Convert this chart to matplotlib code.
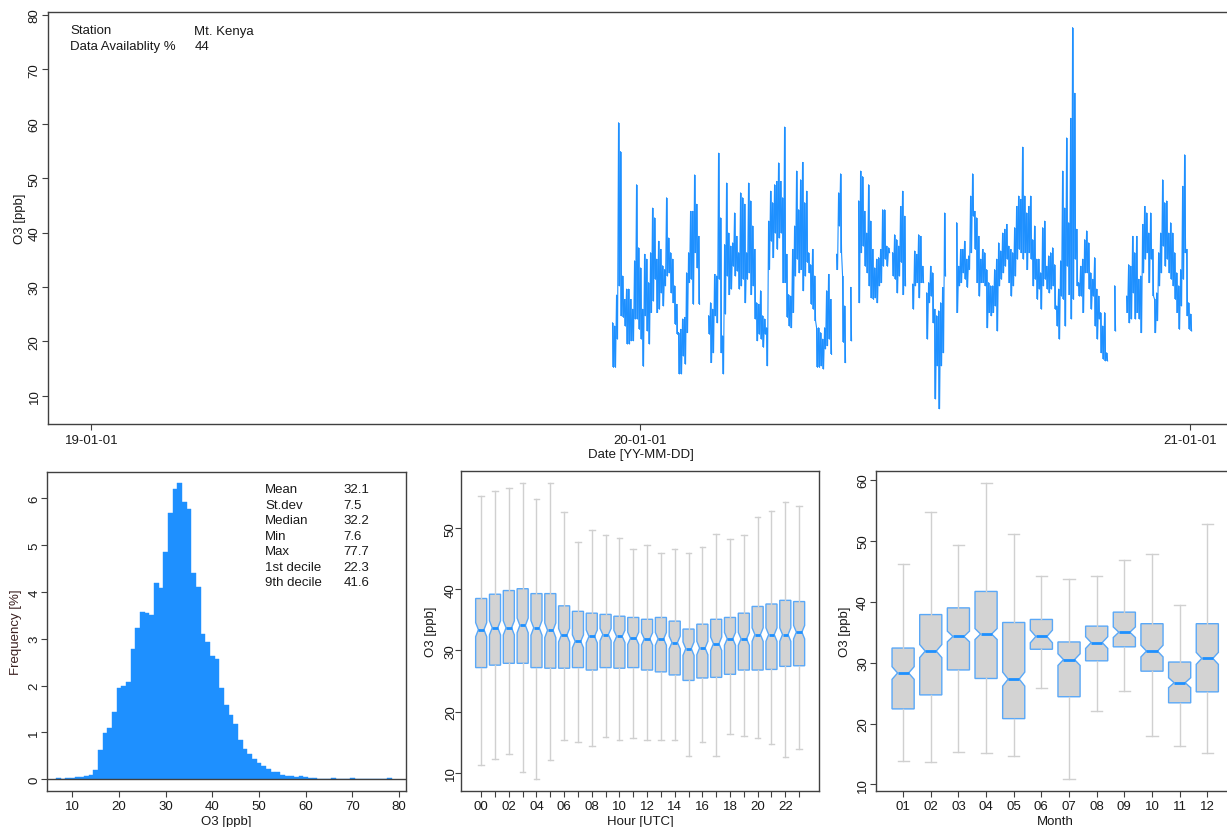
import numpy as np
import matplotlib
matplotlib.use('Agg')
import matplotlib.pyplot as plt
import matplotlib.dates as mdates

plt.rcParams['font.family'] = ['Liberation Sans', 'DejaVu Sans']
plt.rcParams['font.size'] = 9.5

# ---------------- data ----------------
station = "Mt. Kenya"
availability = "44"

# time series: hourly O3 envelope (high / low) per ~1.33-day column
ts_start = '2019-12-13T16:00'
ts_step_days = 1.3307
nan = np.nan
o3_hi = [23.4,22.8,28.5,60.2,54.9,32.0,27.7,29.6,29.6,27.7,25.9,34.8,48.8,37.2,33.5,25.9,36.0,35.1,30.8,36.3,
         44.5,42.7,35.1,38.4,36.9,33.9,33.2,46.4,39.0,36.3,35.1,30.2,26.8,21.6,22.2,24.1,24.4,32.6,36.3,43.9,
         43.9,50.6,45.2,39.3,nan,nan,nan,nan,24.7,27.1,25.9,32.3,32.0,54.6,42.7,21.0,37.8,49.1,39.9,37.5,
         38.1,43.6,39.3,36.3,47.3,46.4,45.2,36.3,49.1,45.8,41.2,
         36.9,27.1,26.8,29.3,24.7,24.1,22.5,42.1,47.6,45.5,48.8,49.4,52.8,49.4,46.4,59.4,36.0,28.6,28.3,36.9,
         41.2,51.3,44.2,49.7,52.9,45.5,47.6,36.3,34.1,36.9,32.0,22.5,22.5,21.6,20.4,22.5,29.3,32.3,27.7,nan,
         nan,36.0,47.3,50.8,32.0,26.5,nan,nan,29.9,nan,nan,nan,45.8,51.3,50.3,43.9,39.9,48.8,42.1,36.9,
         33.5,35.1,35.4,36.9,44.2,44.2,37.5,37.2,nan,36.3,39.6,38.7,37.5,44.8,
         47.6,43.0,nan,nan,nan,30.5,36.6,36.0,39.6,39.3,33.8,nan,28.9,30.8,33.8,32.6,25.9,24.7,25.6,27.1,
         29.9,43.6,nan,nan,nan,nan,nan,41.8,33.8,36.9,36.9,38.4,35.1,35.7,46.7,50.8,43.9,42.7,39.3,35.1,
         36.9,36.3,33.2,30.8,30.2,30.2,33.2,35.1,38.1,36.6,39.9,40.6,41.5,37.5,36.9,36.3,40.9,44.8,46.7,46.1,
         55.7,46.7,43.6,44.8,46.7,38.7,41.2,35.1,35.1,32.6,40.9,42.1,33.8,35.7,
         36.3,37.2,34.1,26.5,29.6,34.8,51.3,44.5,57.4,41.8,61.0,77.7,65.6,40.6,30.8,33.8,35.1,38.7,40.3,38.1,
         32.6,31.4,35.4,29.6,28.3,25.3,22.8,25.3,17.9,nan,nan,nan,30.2,nan,nan,nan,nan,nan,28.3,34.1,
         33.8,39.3,36.3,39.3,31.4,32.0,41.5,44.8,43.6,39.9,43.6,36.9,27.7,28.9,36.3,39.9,49.7,45.5,45.8,39.9,
         41.8,39.9,36.3,32.6,30.2,33.2,48.5,54.3,36.9,27.1,25.0]
o3_lo = [15.2,15.2,20.4,30.2,24.7,24.4,22.8,19.5,19.5,20.1,20.1,24.1,24.1,22.2,20.4,15.4,24.7,21.9,19.5,25.3,
         27.4,31.4,25.3,25.9,28.9,26.5,30.2,32.0,32.6,28.9,27.1,23.1,21.3,14.0,14.0,17.3,15.8,21.6,30.8,31.4,
         26.8,36.3,33.5,26.8,nan,nan,nan,nan,21.3,16.1,17.9,24.7,23.4,31.4,17.9,14.0,25.0,32.0,28.6,29.6,
         33.8,32.0,32.9,29.6,30.2,31.4,27.1,31.4,32.6,28.6,30.2,
         24.1,20.1,21.3,20.4,18.9,21.3,15.5,33.2,38.4,35.4,39.9,36.9,39.0,39.9,30.8,30.8,24.4,22.8,22.5,25.3,
         32.0,35.1,32.6,33.2,29.3,32.0,34.5,32.6,26.8,25.9,23.8,15.2,15.2,15.5,14.9,18.6,19.2,20.4,17.6,nan,
         nan,33.2,41.2,36.3,19.8,16.1,nan,nan,20.1,nan,nan,nan,27.1,36.3,37.5,33.8,32.6,30.2,28.0,27.7,
         28.0,27.1,30.2,30.8,33.8,35.1,33.8,36.3,nan,32.0,31.4,28.9,32.0,34.5,
         28.6,30.2,nan,nan,nan,25.9,30.2,30.8,28.0,30.8,30.8,nan,20.4,27.1,28.3,23.4,9.4,15.5,7.6,15.5,
         17.9,32.0,nan,nan,nan,nan,nan,25.3,30.2,30.8,32.6,31.4,29.9,33.2,36.3,43.0,36.9,30.8,28.3,30.8,
         30.8,30.2,22.5,25.3,24.7,25.3,26.5,21.9,30.2,31.4,32.6,33.8,35.1,30.8,28.3,30.2,32.0,35.1,36.9,36.3,
         35.1,36.3,33.2,36.3,35.1,30.2,31.4,27.7,29.6,25.9,30.2,31.4,29.6,28.9,
         29.6,30.2,25.9,22.8,20.4,28.3,27.7,22.8,33.8,28.6,24.1,27.7,35.1,30.2,28.3,28.3,25.3,32.6,32.6,29.6,
         25.9,28.3,22.8,20.4,24.1,17.9,16.7,16.4,16.4,nan,nan,nan,21.9,nan,nan,nan,nan,nan,25.3,23.4,
         24.1,28.9,24.1,25.3,24.1,21.6,32.6,35.1,36.3,30.8,35.1,28.3,21.6,23.8,30.2,32.6,37.5,33.8,35.1,32.6,
         31.4,30.2,27.7,25.3,22.2,26.5,31.4,36.3,24.7,22.2,21.9]

date_ticks = ['2019-01-01', '2020-01-01', '2021-01-01']
date_tick_labels = ['19-01-01', '20-01-01', '21-01-01']

# histogram (1 ppb bins), frequency in %
hist_first_edge = 6.5
hist_freq = [0.02, 0.0, 0.035, 0.035, 0.04, 0.06, 0.08, 0.09, 0.19, 0.63, 0.98, 1.10, 1.44, 1.95, 1.99, 2.07,
             2.78, 3.24, 3.57, 3.56, 3.51, 4.19, 4.09, 4.85, 5.68, 6.19, 6.33, 5.91, 5.76, 4.41, 4.10, 3.10,
             2.93, 2.63, 2.56, 1.94, 1.59, 1.38, 1.17, 0.84, 0.65, 0.54, 0.44, 0.34, 0.28, 0.21, 0.16, 0.16,
             0.085, 0.07, 0.065, 0.04, 0.065, 0.04, 0.03, 0.03, 0.01, 0.01, 0.005, 0.02, 0.005, 0.0, 0.0, 0.02,
             0.0, 0.0, 0.0, 0.0, 0.0, 0.0, 0.0, 0.02]
stat_names = ['Mean', 'St.dev', 'Median', 'Min', 'Max', '1st decile', '9th decile']
stat_values = ['32.1', '7.5', '32.2', '7.6', '77.7', '22.3', '41.6']

# diurnal box plot
hours = list(range(24))
hour_whislo = [11.3,12.2,13.1,10.2,9.0,12.1,15.4,15.1,14.4,15.8,15.4,15.7,15.3,15.3,15.3,12.8,15.0,12.8,16.3,16.0,15.7,14.7,12.6,13.9]
hour_q1 = [27.2,27.6,27.9,27.9,27.2,27.1,27.1,27.2,26.8,27.2,27.1,27.2,26.8,26.5,26.0,25.1,25.5,25.6,26.1,26.8,26.8,26.9,27.4,27.5]
hour_med = [33.4,33.7,33.7,34.1,33.7,33.3,32.5,31.5,32.3,32.6,32.3,32.0,31.9,31.9,31.3,30.3,30.4,31.1,31.9,31.9,32.6,32.6,32.6,33.0]
hour_q3 = [38.5,39.2,39.8,40.1,39.3,39.3,37.3,36.4,36.1,35.9,35.6,35.4,35.1,35.4,34.8,33.5,34.3,35.1,35.4,36.1,37.2,37.6,38.2,38.0]
hour_whishi = [55.2,56.0,56.6,57.4,54.7,57.4,52.6,47.7,49.7,48.9,48.4,46.6,47.2,45.9,46.6,45.9,46.9,49.0,48.2,48.9,51.8,52.8,54.3,53.7]
hour_notch = [1.15,1.15,1.15,1.2,1.2,1.2,1.1,1.05,1.05,1.0,1.0,1.0,1.0,1.05,1.05,1.1,1.1,1.1,1.05,1.05,1.1,1.1,1.1,1.1]

# monthly box plot
months = list(range(1, 13))
month_labels = ['01','02','03','04','05','06','07','08','09','10','11','12']
month_whislo = [13.9,13.7,15.3,15.1,14.7,25.8,10.9,22.1,25.4,18.0,16.3,15.1]
month_q1 = [22.4,24.7,28.8,27.4,20.8,32.2,24.4,30.3,32.6,28.6,23.4,25.2]
month_med = [28.3,31.9,34.3,34.7,27.3,34.3,30.5,33.3,35.0,31.9,26.7,30.7]
month_q3 = [32.4,37.9,39.0,41.7,36.6,37.1,33.4,36.0,38.3,36.4,30.1,36.4]
month_whishi = [46.2,54.7,49.4,59.5,51.2,44.2,43.7,44.2,46.8,47.9,39.5,52.8]
month_notch = [1.04,1.07,0.87,0.9,1.15,1.04,0.96,0.96,0.87,0.96,0.82,0.98]

# ---------------- style ----------------
W, H = 1227, 828
fig = plt.figure(figsize=(W / 100, H / 100), dpi=100)
AX_COL = '#404040'
BLUE = '#1E90FF'
TXT = '#1a1a1a'


def rect(l, t, r, b):
    return [l / W, 1 - b / H, (r - l) / W, (b - t) / H]


def style(ax, ypad=1):
    for s in ax.spines.values():
        s.set_color(AX_COL)
        s.set_linewidth(1.0)
    ax.tick_params(direction='out', length=4, width=0.8, color=AX_COL,
                   labelsize=9.5, labelcolor=TXT, pad=3)
    ax.tick_params(axis='y', labelrotation=90, pad=ypad)


def fix_ylabels(ax):
    for lab in ax.get_yticklabels():
        lab.set_va('center')
        lab.set_ha('right')


# ---------------- top: time series ----------------
ax = fig.add_axes(rect(47.5, 13.3, 1234.2, 425))
style(ax)
hi = np.array(o3_hi, dtype=float)
lo = np.array(o3_lo, dtype=float)
n = len(hi)
t0 = mdates.date2num(np.datetime64(ts_start))
t = t0 + np.arange(n) * ts_step_days
tt = np.empty(2 * n)
vv = np.empty(2 * n)
tt[0::2] = t
tt[1::2] = t + ts_step_days / 2
vv[0::2] = hi
vv[1::2] = lo
ax.vlines(t + ts_step_days / 4, lo, hi, color=BLUE, lw=1.1)
ax.plot(tt, vv, color=BLUE, lw=0.8)
d0 = mdates.date2num(np.datetime64(date_ticks[0]))
d1 = mdates.date2num(np.datetime64(date_ticks[-1]))
pad = 0.04 * (d1 - d0)
ax.set_xlim(d0 - pad, d1 + pad)
ax.set_ylim(4.8, 80.5)
ax.set_xticks([mdates.date2num(np.datetime64(d)) for d in date_ticks])
ax.set_xticklabels(date_tick_labels)
ax.set_yticks([10, 20, 30, 40, 50, 60, 70, 80])
fix_ylabels(ax)
ax.set_xlabel('Date [YY-MM-DD]', color=TXT)
ax.set_ylabel('O3 [ppb]', color=TXT)
ax.xaxis.set_label_coords(0.5, -0.059)
ax.yaxis.set_label_coords(-0.018, 0.5)

fig.text(70 / W, 1 - 31.5 / H, 'Station', va='center', ha='left', color=TXT)
fig.text(194.5 / W, 1 - 31.5 / H, station, va='center', ha='left', color=TXT)
fig.text(70 / W, 1 - 47 / H, 'Data Availablity %', va='center', ha='left', color=TXT)
fig.text(194.5 / W, 1 - 47 / H, availability, va='center', ha='left', color=TXT)

# ---------------- histogram ----------------
ax = fig.add_axes(rect(47.3, 472.5, 405.7, 791.7))
style(ax)
centers = hist_first_edge + 0.5 + np.arange(len(hist_freq))
ax.bar(centers, hist_freq, width=1.0, color=BLUE, edgecolor=BLUE, linewidth=0.3)
ax.axhline(0, color=AX_COL, lw=1.0)
ax.set_xlim(4.64, 81.4)
ax.set_ylim(-0.243, 6.57)
ax.set_xticks([10, 20, 30, 40, 50, 60, 70, 80])
ax.set_yticks([0, 1, 2, 3, 4, 5, 6])
fix_ylabels(ax)
ax.set_xlabel('O3 [ppb]', color=TXT)
ax.set_ylabel('Frequency [%]', color='#3a2020')
ax.xaxis.set_label_coords(0.5, -0.076)
ax.yaxis.set_label_coords(-0.0714, 0.5)
for i, (nm, vl) in enumerate(zip(stat_names, stat_values)):
    y = 1 - (490.5 + i * 15.5) / H
    fig.text(265 / W, y, nm, va='center', ha='left', color=TXT)
    fig.text(343.5 / W, y, vl, va='center', ha='left', color=TXT)


def boxes(ax, pos, lo_, q1, med, q3, hi_, notch):
    stats = []
    for a, b, c, d, e, f in zip(lo_, q1, med, q3, hi_, notch):
        stats.append(dict(whislo=a, q1=b, med=c, q3=d, whishi=e, cilo=c - f, cihi=c + f, fliers=[]))
    ax.bxp(stats, positions=pos, widths=0.8, shownotches=True, patch_artist=True,
           showfliers=False, capwidths=0.4, manage_ticks=False,
           boxprops=dict(facecolor='#D3D3D3', edgecolor='#5AA8F7', linewidth=1.0),
           medianprops=dict(color=BLUE, linewidth=2.0, solid_capstyle='butt'),
           whiskerprops=dict(color='#D0D0D0', linewidth=1.0),
           capprops=dict(color='#D0D0D0', linewidth=1.0))


# ---------------- diurnal ----------------
ax = fig.add_axes(rect(461, 472.3, 819.3, 791.7))
style(ax, ypad=-1)
boxes(ax, hours, hour_whislo, hour_q1, hour_med, hour_q3, hour_whishi, hour_notch)
ax.set_xlim(-1.46, 24.46)
ax.set_ylim(7.07, 59.3)
ax.set_xticks(hours)
ax.set_xticklabels(['%02d' % h if h % 2 == 0 else '' for h in hours])
ax.set_yticks([10, 20, 30, 40, 50])
fix_ylabels(ax)
ax.set_xlabel('Hour [UTC]', color=TXT)
ax.set_ylabel('O3 [ppb]', color=TXT)
ax.xaxis.set_label_coords(0.5, -0.076)
ax.yaxis.set_label_coords(-0.0678, 0.5)

# ---------------- monthly ----------------
ax = fig.add_axes(rect(876, 472.3, 1234.4, 791.7))
style(ax)
boxes(ax, months, month_whislo, month_q1, month_med, month_q3, month_whishi, month_notch)
ax.set_xlim(0.02, 12.98)
ax.set_ylim(8.96, 61.44)
ax.set_xticks(months)
ax.set_xticklabels(month_labels)
ax.set_yticks([10, 20, 30, 40, 50, 60])
fix_ylabels(ax)
ax.set_xlabel('Month', color=TXT)
ax.set_ylabel('O3 [ppb]', color=TXT)
ax.xaxis.set_label_coords(0.5, -0.076)
ax.yaxis.set_label_coords(-0.0698, 0.5)

fig.savefig('out.png', dpi=100)
